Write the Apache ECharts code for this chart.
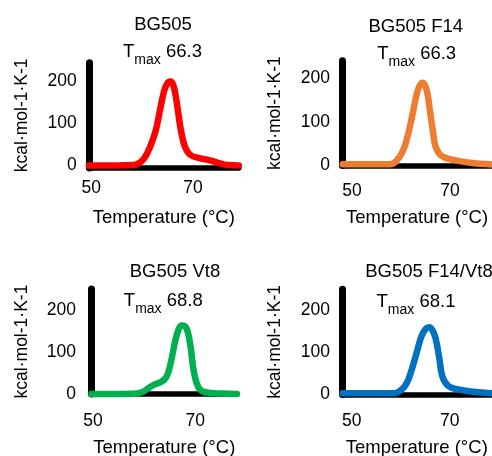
<!DOCTYPE html>
<html>
<head>
<meta charset="utf-8">
<title>BG505 DSC</title>
<script src="https://cdn.jsdelivr.net/npm/echarts@6/dist/echarts.min.js"></script>
<style>
  html, body { margin: 0; padding: 0; background: #fff; }
  #main { width: 492px; height: 456px; }
</style>
</head>
<body>
<div id="main"></div>
<script>
// 面板名称 & Tmax
const panelNames = ['BG505', 'BG505 F14', 'BG505 Vt8', 'BG505 F14/Vt8'];
const tmaxValues = ['66.3', '66.3', '68.8', '68.1'];
const xTicks = [50, 70];
const yTicks = [0, 100, 200];

// 温度 (°C) / 热容 (kcal·mol-1·K-1)
const tempBG505 = [49.5, 55, 58, 59.1, 60.4, 61.7, 62.7, 63.5, 64.3, 64.9, 65.5, 66.1, 66.6, 67.1, 67.6, 68.4, 69.5, 71.5, 73.1, 74.8, 76.8, 79];
const cpBG505   = [0, 0, 1, 3.6, 17, 49, 85, 132, 177, 195, 200, 192, 165, 125, 85, 45, 25, 17, 13, 7, 1, 0];

const tempF14 = [48.1, 54, 57.8, 59.1, 60.5, 61.5, 62.4, 63.2, 63.8, 64.4, 65, 65.5, 65.9, 66.5, 67.1, 68.3, 70.7, 74.1, 78.5];
const cpF14   = [2, 2, 2, 10, 35, 73, 119, 163, 183, 190, 182, 160, 127, 81, 42, 21, 12, 5.5, 1.5];

const tempVt8 = [49.7, 55, 58.5, 59.8, 60.8, 62.1, 63.4, 64.4, 65.2, 66, 66.7, 67.3, 67.9, 68.5, 69.1, 69.7, 70.6, 71.9, 75.5, 78.2];
const cpVt8   = [0, 0, 1, 5.5, 13.5, 23, 29, 41, 73, 121, 152, 163, 162, 150, 113, 57, 17, 4, 1, 0];

const tempF14Vt8 = [48.1, 54, 58.4, 59.1, 60.1, 61.2, 62.2, 63.2, 64.2, 65, 65.8, 66.5, 67.1, 67.8, 68.5, 69.7, 71.7, 74.8, 78.4];
const cpF14Vt8   = [2, 2, 2, 3, 10, 26, 57, 97, 137, 154, 159, 151, 132, 89, 41, 19, 11, 5.5, 2];

const temps = [tempBG505, tempF14, tempVt8, tempF14Vt8];
const cps = [cpBG505, cpF14, cpVt8, cpF14Vt8];

// 各面板布局
const layout = [
  { left: 88.8, top: 62.7, width: 150, height: 105.3, xMin: 49.5, xMax: 79, yMin: -6, yMax: 245, color: '#ff0000',
    titleX: 163, titleY: 15, tmaxX: 162.5, tmaxY: 42.7, xLabelGap: 11.5, xNameGap: 40, yLabelGap: 12, yNameGap: 58 },
  { left: 342.7, top: 60.7, width: 148.8, height: 104.8, xMin: 48.1, xMax: 78.5, yMin: -1, yMax: 241, color: '#ed7d31',
    titleX: 415.8, titleY: 17, tmaxX: 416.7, tmaxY: 44.4, xLabelGap: 17, xNameGap: 42.5, yLabelGap: 12.7, yNameGap: 58.5 },
  { left: 91.5, top: 289, width: 145.5, height: 105, xMin: 49.7, xMax: 78.2, yMin: 0, yMax: 250, color: '#00b050',
    titleX: 175, titleY: 262.7, tmaxX: 163.3, tmaxY: 291.7, xLabelGap: 18.5, xNameGap: 44, yLabelGap: 15.5, yNameGap: 60 },
  { left: 342.5, top: 289.3, width: 148.5, height: 105.2, xMin: 48.1, xMax: 78.4, yMin: -1, yMax: 249, color: '#0070c0',
    titleX: 429, titleY: 262.7, tmaxX: 416, tmaxY: 292.7, xLabelGap: 18, xNameGap: 43.5, yLabelGap: 12.5, yNameGap: 58.5 }
];

const fontFamily = "'Liberation Sans', Arial, Helvetica, sans-serif";
const fs = 17.5;   // 刻度、纵轴名
const fsBig = 18.5; // 标题、横轴名

let chart = echarts.init(document.getElementById('main'));

let titles = [], grids = [], xAxes = [], yAxes = [], series = [];
layout.forEach((p, i) => {
  titles.push({
    text: panelNames[i], left: p.titleX, top: p.titleY, textAlign: 'center', padding: 0,
    textStyle: { fontFamily: fontFamily, fontSize: fsBig, fontWeight: 'normal', color: '#000' }
  });
  titles.push({
    text: '{t|T}{s|max}{t| ' + tmaxValues[i] + '}', left: p.tmaxX, top: p.tmaxY, textAlign: 'center', padding: 0,
    textStyle: {
      fontFamily: fontFamily, fontWeight: 'normal', color: '#000',
      rich: {
        t: { fontFamily: fontFamily, fontSize: fsBig, color: '#000', padding: [0, 0, 8, 0] },
        s: { fontFamily: fontFamily, fontSize: 14, color: '#000', padding: [8, 0, 0, 0] }
      }
    }
  });
  grids.push({ left: p.left, top: p.top, width: p.width, height: p.height, containLabel: false, outerBoundsMode: 'none' });
  xAxes.push({
    type: 'value', gridIndex: i, min: p.xMin, max: p.xMax,
    name: 'Temperature (°C)', nameLocation: 'middle', nameGap: p.xNameGap,
    nameTextStyle: { fontFamily: fontFamily, fontSize: fsBig, color: '#000' },
    axisLine: { show: true, onZero: false, lineStyle: { color: '#000', width: 5.5 } },
    axisTick: { show: false },
    splitLine: { show: false },
    axisLabel: { customValues: xTicks, margin: p.xLabelGap, fontFamily: fontFamily, fontSize: fs, color: '#000' }
  });
  yAxes.push({
    type: 'value', gridIndex: i, min: p.yMin, max: p.yMax,
    name: 'kcal·mol-1·K-1', nameLocation: 'middle', nameGap: p.yNameGap, nameRotate: 90,
    nameTextStyle: { fontFamily: fontFamily, fontSize: fs, color: '#000' },
    axisLine: { show: true, onZero: false, lineStyle: { color: '#000', width: 7 } },
    axisTick: { show: false },
    splitLine: { show: false },
    axisLabel: { customValues: yTicks, margin: p.yLabelGap, fontFamily: fontFamily, fontSize: fs, color: '#000' }
  });
  series.push({
    type: 'line', xAxisIndex: i, yAxisIndex: i,
    data: temps[i].map((t, k) => [t, cps[i][k]]),
    smooth: 0.4, showSymbol: false, clip: false,
    lineStyle: { color: p.color, width: 6.5, cap: 'round', join: 'round' }
  });
});

chart.setOption({
  animation: false,
  backgroundColor: '#fff',
  title: titles,
  grid: grids,
  xAxis: xAxes,
  yAxis: yAxes,
  series: series
});
</script>
</body>
</html>
